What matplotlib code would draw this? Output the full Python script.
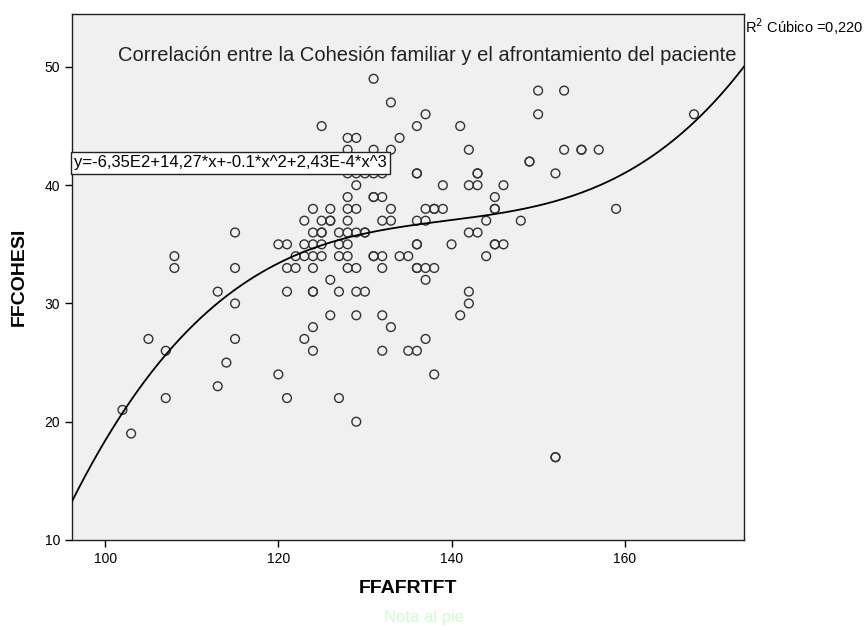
import numpy as np
import matplotlib.pyplot as plt

plt.rcParams['font.family'] = ['Liberation Sans', 'DejaVu Sans']

# ------------------------------ datos ------------------------------

ffafrtft = [
    102, 103, 105, 107, 107, 108, 108, 113, 115, 115, 115, 115, 114, 113, 120, 121, 121, 120, 121, 122, 121, 122,
    129, 139, 142, 143,
    128, 131, 131, 132,
    124, 126, 128, 129, 133, 137, 138, 138, 139,
    123, 125, 126, 126, 128, 132, 133, 136, 137,
    124, 125, 125, 127, 128, 129, 130, 130, 142, 143,
    123, 124, 125, 127, 128, 136, 136, 140,
    123, 124, 125, 127, 128, 131, 131, 132, 134, 135,
    124, 128, 129, 132, 136, 136, 137, 138,
    126, 137,
    124, 124, 127, 129, 130, 142,
    142,
    126, 129, 132, 141,
    124, 133,
    123, 137,
    124, 132, 135, 136,
    128, 129, 130, 131, 132, 136, 136, 143, 143,
    131, 133, 137, 125, 136, 141, 128, 129, 134, 128, 131, 133, 142,
    150, 153, 150, 168, 153, 155, 155, 157, 149, 149, 152, 146, 145, 145, 145, 144, 148, 159,
    145, 145, 146, 144,
    138, 127, 129, 152, 152,
]

ffcohesi = [
    21, 19, 27, 26, 22, 34, 33, 31, 36, 33, 30, 27, 25, 23, 24, 22, 31, 35, 35, 34, 33, 33,
    40, 40, 40, 40,
    39, 39, 39, 39,
    38, 38, 38, 38, 38, 38, 38, 38, 38,
    37, 37, 37, 37, 37, 37, 37, 37, 37,
    36, 36, 36, 36, 36, 36, 36, 36, 36, 36,
    35, 35, 35, 35, 35, 35, 35, 35,
    34, 34, 34, 34, 34, 34, 34, 34, 34, 34,
    33, 33, 33, 33, 33, 33, 33, 33,
    32, 32,
    31, 31, 31, 31, 31, 31,
    30,
    29, 29, 29, 29,
    28, 28,
    27, 27,
    26, 26, 26, 26,
    41, 41, 41, 41, 41, 41, 41, 41, 41,
    49, 47, 46, 45, 45, 45, 44, 44, 44, 43, 43, 43, 43,
    48, 48, 46, 46, 43, 43, 43, 43, 42, 42, 41, 40, 39, 38, 38, 37, 37, 38,
    35, 35, 35, 34,
    24, 22, 20, 17, 17,
]

# coeficientes del ajuste cubico (etiqueta del grafico)
coef = [-635.0, 14.27, -0.10166, 2.43e-4]
r2_text = "R$^2$ Cúbico =0,220"
eq_text = "y=-6,35E2+14,27*x+-0.1*x^2+2,43E-4*x^3"
title = "Correlación entre la Cohesión familiar y el afrontamiento del paciente"

x_ticks = [100, 120, 140, 160]
y_ticks = [10, 20, 30, 40, 50]

# ------------------------------ grafico ------------------------------

fig = plt.figure(figsize=(8.65, 6.3), dpi=100)
ax = fig.add_axes([0.0832, 0.1429, 0.7769, 0.8349])
ax.set_facecolor("#f0f0f0")

ax.scatter(ffafrtft, ffcohesi, s=40, facecolors="none", edgecolors="#333333",
           linewidths=1.0, zorder=3)

xlim = (96.17, 173.77)
xs = np.linspace(xlim[0], xlim[1], 300)
ys = coef[0] + coef[1] * xs + coef[2] * xs**2 + coef[3] * xs**3
ax.plot(xs, ys, color="black", linewidth=1.3, zorder=4)

ax.set_xlim(*xlim)
ax.set_ylim(10, 54.48)
ax.set_xticks(x_ticks)
ax.set_yticks(y_ticks)
ax.tick_params(direction="out", length=5, width=1, labelsize=10, colors="black")

for sp in ax.spines.values():
    sp.set_color("#222222")
    sp.set_linewidth(1)

ax.set_xlabel("FFAFRTFT", fontsize=14, fontweight="bold", labelpad=10)
ax.set_ylabel("FFCOHESI", fontsize=14, fontweight="bold", labelpad=12)

ax.text(0.9896, 0.922, title, transform=ax.transAxes, ha="right", va="center",
        fontsize=14.5, color="#222222")

ax.text(0.003, 0.717, eq_text, transform=ax.transAxes, ha="left", va="center",
        fontsize=12, zorder=5,
        bbox=dict(boxstyle="square,pad=0.2", facecolor="white", edgecolor="#222222", linewidth=1))

fig.text(0.861, 0.957, r2_text, ha="left", va="center", fontsize=10.5)

fig.text(0.49, 0.02, "Nota al pie", ha="center", va="center", fontsize=12, color="#ccffcc")

fig.savefig("out.png", dpi=100)
